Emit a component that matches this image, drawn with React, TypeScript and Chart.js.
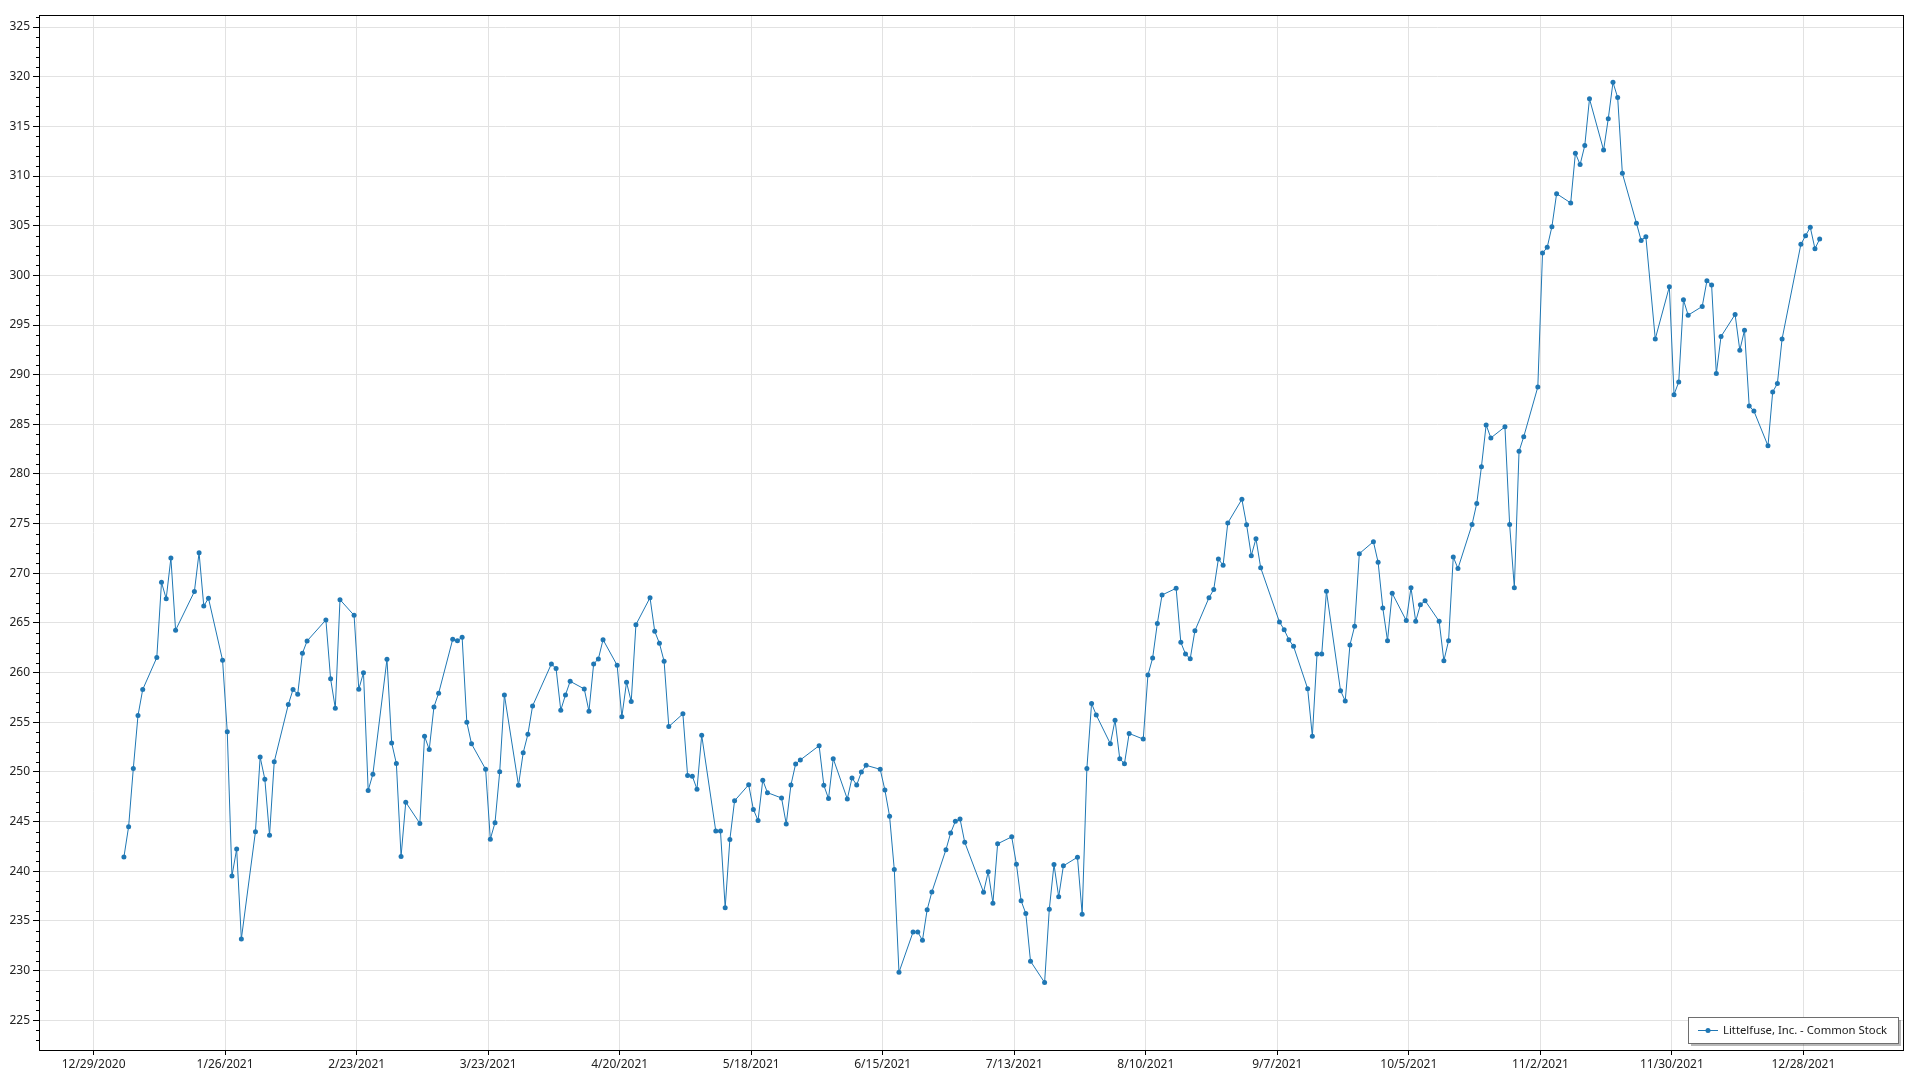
import React, { useEffect, useRef } from "react";
import { Chart, registerables } from "chart.js";

Chart.register(...registerables);

// ---------------- data ----------------
const SERIES_LABEL = "Littelfuse, Inc. - Common Stock";
const YEAR = 2021;
// NYSE market holidays in 2021 (no trading)
const HOLIDAYS = [
  "2021-01-01", "2021-01-18", "2021-02-15", "2021-04-02", "2021-05-31",
  "2021-07-05", "2021-09-06", "2021-11-25", "2021-12-24",
];

// daily closes, one entry per trading day, month by month
const JAN = [241.44, 244.49, 250.36, 255.69, 258.3, 261.52, 269.09, 267.45, 271.54, 264.27, 268.16, 272.08, 266.71, 267.49, 261.25, 254.04, 239.53, 242.24, 233.19];
const FEB = [243.99, 251.5, 249.28, 243.62, 251.03, 256.79, 258.3, 257.83, 261.95, 263.19, 265.31, 259.38, 256.42, 267.35, 265.77, 258.33, 260.0, 248.14, 249.78];
const MAR = [261.35, 252.93, 250.85, 241.5, 246.96, 244.82, 253.6, 252.26, 256.55, 257.93, 263.36, 263.22, 263.56, 255.01, 252.83, 250.28, 243.24, 244.89, 250.02, 257.76, 248.67, 251.93, 253.8];
const APR = [256.65, 260.88, 260.41, 256.22, 257.76, 259.13, 258.36, 256.12, 260.88, 261.38, 263.32, 260.74, 255.55, 259.03, 257.09, 264.83, 267.55, 264.16, 262.96, 261.14, 254.57];
const MAY = [255.85, 249.65, 249.58, 248.27, 253.7, 244.05, 244.05, 236.34, 243.21, 247.1, 248.71, 246.23, 245.12, 249.18, 247.92, 247.38, 244.77, 248.69, 250.81, 251.21];
const JUN = [252.65, 248.66, 247.32, 251.34, 247.28, 249.4, 248.69, 250.0, 250.67, 250.27, 248.19, 245.54, 240.17, 229.83, 233.89, 233.89, 233.05, 236.14, 237.92, 242.18, 243.86, 245.03];
const JUL = [245.27, 242.92, 237.9, 239.95, 236.79, 242.77, 243.47, 240.72, 237.03, 235.75, 230.95, 228.8, 236.18, 240.69, 237.43, 240.55, 241.42, 235.68, 250.36, 256.9, 255.73];
const AUG = [252.84, 255.22, 251.33, 250.83, 253.88, 253.31, 259.76, 261.47, 264.96, 267.82, 268.49, 263.05, 261.87, 261.4, 264.22, 267.55, 268.36, 271.44, 270.81, 275.07, 277.45, 274.9];
const SEP = [271.78, 273.49, 270.57, 265.1, 264.33, 263.32, 262.65, 258.39, 253.59, 261.88, 261.88, 268.19, 258.19, 257.15, 262.79, 264.66, 271.98, 273.19, 271.11, 266.51, 263.22];
const OCT = [267.99, 265.24, 268.56, 265.17, 266.83, 267.25, 265.17, 261.2, 263.21, 271.65, 270.49, 274.92, 277.04, 280.74, 284.94, 283.63, 284.75, 274.92, 268.56, 282.28, 283.75];
const NOV = [288.76, 302.24, 302.82, 304.9, 308.22, 307.29, 312.3, 311.15, 313.07, 317.77, 312.61, 315.77, 319.43, 317.9, 310.27, 305.24, 303.52, 303.89, 293.6, 298.85, 287.99];
const DEC = [289.27, 297.54, 295.99, 296.87, 299.46, 299.02, 290.11, 293.84, 296.06, 292.46, 294.48, 286.85, 286.34, 282.84, 288.26, 289.1, 293.6, 303.12, 303.99, 304.84, 302.68, 303.66];
const MONTHLY_CLOSES = [JAN, FEB, MAR, APR, MAY, JUN, JUL, AUG, SEP, OCT, NOV, DEC];

// x-axis tick labels (every four weeks)
const X_TICK_LABELS = [
  "12/29/2020", "1/26/2021", "2/23/2021", "3/23/2021", "4/20/2021", "5/18/2021", "6/15/2021",
  "7/13/2021", "8/10/2021", "9/7/2021", "10/5/2021", "11/2/2021", "11/30/2021", "12/28/2021",
];
// y-axis tick labels
const Y_TICKS = [225, 230, 235, 240, 245, 250, 255, 260, 265, 270, 275, 280, 285, 290, 295, 300, 305, 310, 315, 320, 325];

// ---------------- helpers ----------------
const DAY_MS = 86400000;
const BASE_UTC = Date.UTC(2020, 11, 29); // day 0 of the x axis
const SESSION_TIME = 11 / 24; // time-of-day of each quote (fraction of a day)

function parseLabelDate(s: string): number {
  const [m, d, y] = s.split("/").map(Number);
  return (Date.UTC(y, m - 1, d) - BASE_UTC) / DAY_MS;
}

function buildPoints() {
  const hol = new Set(HOLIDAYS);
  const pts: { x: number; y: number }[] = [];
  for (let m = 0; m < 12; m++) {
    const vals = MONTHLY_CLOSES[m];
    let i = 0;
    for (let d = 1; d <= 31; d++) {
      const t = Date.UTC(YEAR, m, d);
      const dt = new Date(t);
      if (dt.getUTCMonth() !== m) break;
      const wd = dt.getUTCDay();
      if (wd === 0 || wd === 6) continue;
      const iso = dt.toISOString().slice(0, 10);
      if (hol.has(iso)) continue;
      if (i < vals.length) {
        pts.push({ x: (t - BASE_UTC) / DAY_MS + SESSION_TIME, y: vals[i] });
      }
      i++;
    }
  }
  return pts;
}

function fmtDay(v: number): string {
  const dt = new Date(BASE_UTC + Math.round(v) * DAY_MS);
  return `${dt.getUTCMonth() + 1}/${dt.getUTCDate()}/${dt.getUTCFullYear()}`;
}

const FONT_FAMILY = "'Segoe UI', 'Noto Sans', 'Open Sans', sans-serif";
const LINE_COLOR = "#1f77b4";

export default function App() {
  const ref = useRef<HTMLCanvasElement | null>(null);

  useEffect(() => {
    if (!ref.current) return;
    const points = buildPoints();
    const xTickValues = X_TICK_LABELS.map(parseLabelDate);

    const framePlugin = {
      id: "frame",
      afterDraw(chart: any) {
        const { ctx, chartArea: a, scales } = chart;
        ctx.save();
        // minor ticks on y axis
        const ys = scales.y;
        ctx.strokeStyle = "#000";
        ctx.lineWidth = 1;
        ctx.beginPath();
        for (let v = Math.ceil(ys.min); v <= Math.floor(ys.max); v++) {
          if (v % 5 === 0) continue;
          const y = Math.round(ys.getPixelForValue(v)) + 0.5;
          ctx.moveTo(a.left - 3, y);
          ctx.lineTo(a.left, y);
        }
        ctx.stroke();
        // frame
        ctx.strokeRect(Math.round(a.left) + 0.5, Math.round(a.top) + 0.5, Math.round(a.right - a.left), Math.round(a.bottom - a.top));

        // legend box
        ctx.font = `11.3px ${FONT_FAMILY}`;
        const tw = ctx.measureText(SERIES_LABEL).width;
        const w = Math.round(35 + tw + 11);
        const h = 26;
        const x = Math.round(a.right - 5 - w);
        const y = Math.round(a.bottom - 7 - h);
        ctx.fillStyle = "rgba(0,0,0,0.28)";
        ctx.fillRect(x + 3, y + 3, w, h);
        ctx.fillStyle = "#fff";
        ctx.fillRect(x, y, w, h);
        ctx.strokeStyle = "#6e6e6e";
        ctx.strokeRect(x + 0.5, y + 0.5, w, h);
        const cy = y + h / 2 + 0.5;
        ctx.strokeStyle = LINE_COLOR;
        ctx.lineWidth = 1;
        ctx.beginPath();
        ctx.moveTo(x + 10, cy);
        ctx.lineTo(x + 30, cy);
        ctx.stroke();
        ctx.fillStyle = LINE_COLOR;
        ctx.beginPath();
        ctx.arc(x + 20, cy, 2.5, 0, Math.PI * 2);
        ctx.fill();
        ctx.fillStyle = "#1a1a1a";
        ctx.textBaseline = "middle";
        ctx.textAlign = "left";
        ctx.fillText(SERIES_LABEL, x + 35, cy);
        ctx.restore();
      },
    };

    const chart = new Chart(ref.current, {
      type: "line",
      data: {
        datasets: [
          {
            label: SERIES_LABEL,
            data: points,
            borderColor: LINE_COLOR,
            backgroundColor: LINE_COLOR,
            borderWidth: 1,
            pointRadius: 2.5,
            pointBorderWidth: 0,
            pointHoverRadius: 2.5,
            tension: 0,
          },
        ],
      },
      options: {
        responsive: false,
        animation: false,
        devicePixelRatio: 1,
        layout: { padding: { top: 15, right: 17, left: 0, bottom: 0 } },
        plugins: { legend: { display: false }, tooltip: { enabled: false } },
        scales: {
          x: {
            type: "linear",
            min: -11.62,
            max: 385.2,
            afterBuildTicks: (s: any) => {
              s.ticks = xTickValues.map((v) => ({ value: v }));
            },
            afterFit: (s: any) => {
              s.height = 30;
            },
            grid: { color: "#e2e2e2", tickColor: "#000", tickLength: 5, lineWidth: 1 },
            border: { color: "#000", width: 1 },
            ticks: {
              autoSkip: false,
              maxRotation: 0,
              padding: 2,
              color: "#222",
              font: { family: FONT_FAMILY, size: 12 },
              callback: (v: any) => fmtDay(Number(v)),
            },
          },
          y: {
            type: "linear",
            min: 222.01,
            max: 326.21,
            afterBuildTicks: (s: any) => {
              s.ticks = Y_TICKS.map((v) => ({ value: v }));
            },
            afterFit: (s: any) => {
              s.width = 39;
            },
            grid: { color: "#e2e2e2", tickColor: "#000", tickLength: 6, lineWidth: 1 },
            border: { color: "#000", width: 1 },
            ticks: {
              padding: 3,
              color: "#222",
              font: { family: FONT_FAMILY, size: 12 },
              callback: (v: any) => String(v),
            },
          },
        },
      },
      plugins: [framePlugin],
    } as any);

    return () => chart.destroy();
  }, []);

  return (
    <div style={{ position: "fixed", left: 0, top: 0, width: 1920, height: 1080, background: "#fff" }}>
      <canvas ref={ref} width={1920} height={1080} style={{ display: "block" }} />
    </div>
  );
}
